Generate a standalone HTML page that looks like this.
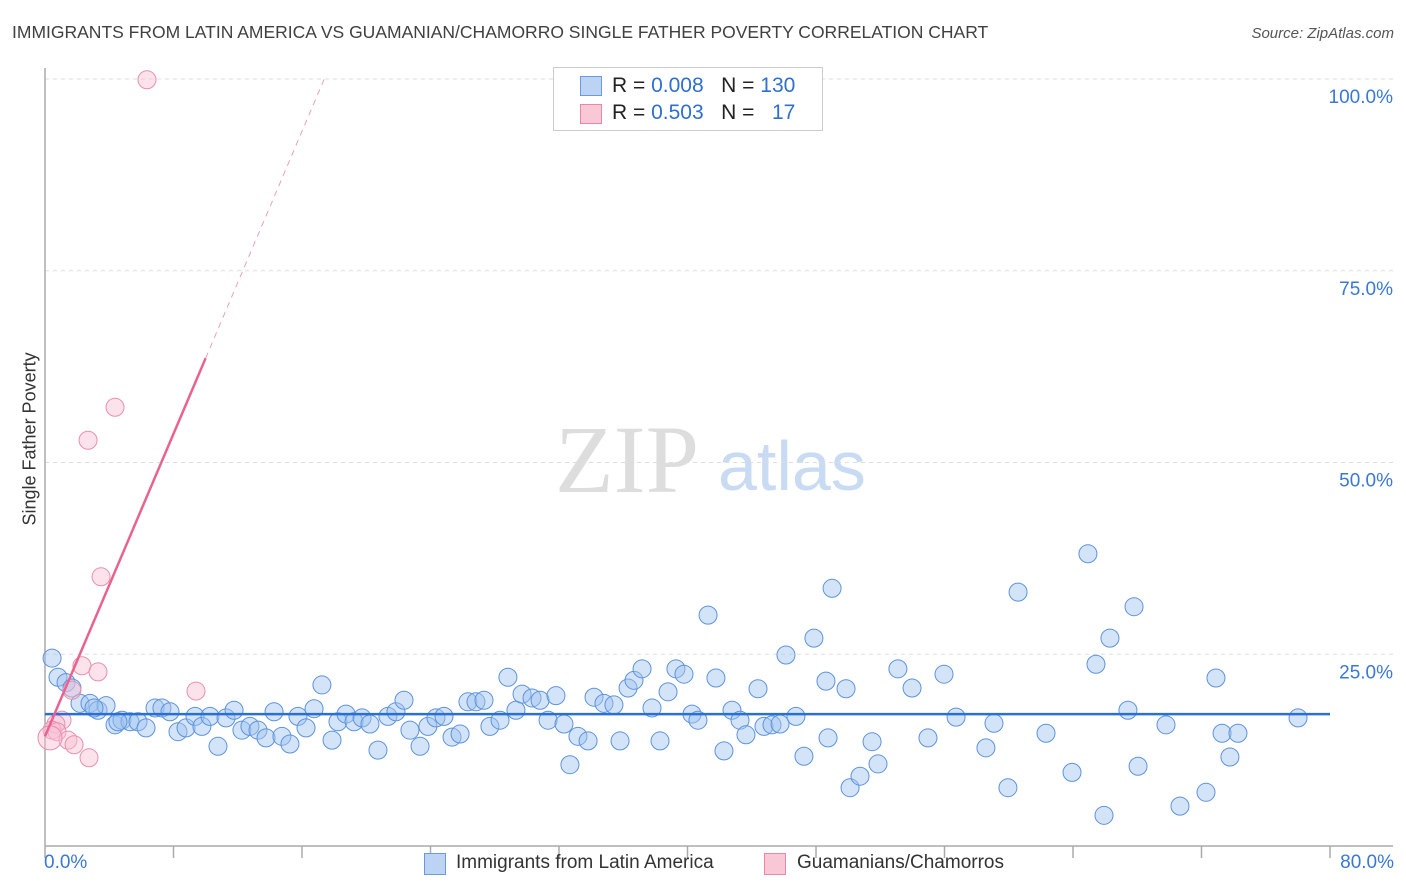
<!DOCTYPE html>
<html><head><meta charset="utf-8"><style>
body{margin:0;width:1406px;height:892px;background:#fff;font-family:"Liberation Sans",sans-serif;overflow:hidden;position:relative}
.t{position:absolute;white-space:nowrap}
</style></head><body>
<div class="t" style="left:12px;top:22px;font-size:17.5px;color:#404040">IMMIGRANTS FROM LATIN AMERICA VS GUAMANIAN/CHAMORRO SINGLE FATHER POVERTY CORRELATION CHART</div>
<div class="t" style="right:12px;top:25px;font-size:15px;color:#555;font-style:italic">Source: ZipAtlas.com</div>
<div class="t" style="left:-40px;top:445px;font-size:18px;color:#333;transform:rotate(-90deg);width:140px;text-align:center">Single Father Poverty</div>
<svg id="chart" width="1406" height="892" style="position:absolute;left:0;top:0">
<text x="555" y="492" font-family="Liberation Serif,serif" font-size="96" fill="#ddd">ZIP</text>
<text x="718" y="490" font-family="Liberation Sans,sans-serif" font-size="70" fill="#c9daf3">atlas</text>
<g id="grid"></g><g id="marks"></g>
</svg>
<div style="position:absolute;left:553px;top:67px;width:268px;height:62px;border:1px solid #ccc;background:#fff;font-size:21px;color:#222">
<div style="position:absolute;left:26px;top:8px;width:20px;height:18px;background:#bcd3f3;border:1px solid #6a9be0"></div>
<div class="t" style="left:58px;top:6px">R = <span style="color:#2f6fd0">0.008</span>&nbsp;&nbsp;&nbsp;N = <span style="color:#2f6fd0">130</span></div>
<div style="position:absolute;left:26px;top:36px;width:20px;height:18px;background:#f8c8d6;border:1px solid #e88aa5"></div>
<div class="t" style="left:58px;top:33px">R = <span style="color:#2f6fd0">0.503</span>&nbsp;&nbsp;&nbsp;N = &nbsp;&nbsp;<span style="color:#2f6fd0">17</span></div>
</div>
<div class="t" style="left:44px;top:852px;font-size:19px;color:#3a78d6">0.0%</div>
<div class="t" style="right:12px;top:852px;font-size:19px;color:#3a78d6">80.0%</div>
<div style="position:absolute;left:424px;top:853px;width:20px;height:20px;background:#bcd3f3;border:1px solid #6a9be0"></div>
<div class="t" style="left:456px;top:852px;font-size:19px;color:#333">Immigrants from Latin America</div>
<div style="position:absolute;left:764px;top:853px;width:20px;height:20px;background:#f8c8d6;border:1px solid #e88aa5"></div>
<div class="t" style="left:797px;top:852px;font-size:19px;color:#333">Guamanians/Chamorros</div>
<script>
const blueX=[0.44,0.81,1.31,1.68,2.18,2.80,3.30,3.80,4.36,4.79,5.29,5.79,6.29,6.85,7.28,7.78,8.28,8.78,9.34,9.77,10.27,10.77,11.27,11.77,12.26,12.76,13.26,13.76,14.26,14.75,15.25,15.75,16.25,16.75,17.24,17.87,18.24,18.74,19.24,19.74,20.23,20.73,21.35,21.85,22.35,22.72,23.35,23.84,24.34,24.84,25.34,25.84,26.33,26.83,27.33,27.70,28.33,28.82,29.32,29.70,30.32,30.82,31.32,31.81,32.31,32.68,33.18,33.81,34.18,34.80,35.42,35.80,36.30,36.67,37.17,37.79,38.29,38.79,39.28,39.78,40.28,40.65,41.28,41.77,42.27,42.77,43.27,43.64,44.39,44.76,45.26,45.76,46.13,46.75,47.25,47.87,48.62,48.75,49.00,49.87,50.12,50.74,51.49,51.86,53.10,53.98,54.97,55.97,56.72,58.58,59.08,59.95,60.58,62.32,63.94,64.93,65.43,65.93,66.30,67.42,67.80,68.05,69.79,70.66,72.28,72.90,73.28,73.77,74.27,78.01,3.05,4.54];
const blueY=[24.5,22.0,21.3,20.6,18.6,18.6,17.7,18.3,15.8,16.4,16.2,16.2,15.4,18.0,18.0,17.5,14.9,15.4,16.9,15.6,16.9,13.0,16.7,17.7,15.1,15.6,15.1,14.1,17.5,14.3,13.3,16.9,15.4,17.9,21.0,13.8,16.2,17.2,16.2,16.7,15.9,12.5,16.9,17.5,19.0,15.1,13.0,15.6,16.7,16.9,14.2,14.6,18.8,18.8,19.0,15.6,16.4,22.0,17.7,19.8,19.3,19.0,16.4,19.6,15.9,10.6,14.3,13.7,19.4,18.6,18.4,13.7,20.6,21.6,23.1,18.0,13.7,20.1,23.1,22.4,17.2,16.4,30.1,21.9,12.4,17.7,16.4,14.5,20.5,15.6,15.8,15.9,24.9,16.9,11.7,27.1,21.5,14.1,33.6,20.5,7.6,9.1,13.6,10.7,23.1,20.6,14.1,22.4,16.8,12.8,16.0,7.6,33.1,14.7,9.6,38.1,23.7,4.0,27.1,17.7,31.2,10.4,15.8,5.2,7.0,21.9,14.7,11.6,14.7,16.7,18.0,16.2];
const pinkX=[6.35,4.36,2.68,3.49,2.30,3.30,9.40,1.68,1.06,0.68,0.44,0.75,1.43,1.81,2.74,0.31];
const pinkY=[99.9,57.2,52.9,35.1,23.5,22.7,20.2,20.3,16.4,15.9,15.1,14.9,13.8,13.2,11.5,14.1];
const blueTrend=[17.2,0];   // intercept, slope
const pinkTrend=[14.3,4.93];
const yTicks=[25,50,75,100];
const yTickLabels=["25.0%","50.0%","75.0%","100.0%"];
const xTickCount=10;
const X0=45,X1=1330,Y0=846,Y1=79;
const sx=v=>X0+(X1-X0)*v/80;
const sy=v=>Y0-(Y0-Y1)*v/100;
const NS="http://www.w3.org/2000/svg";
function mk(t,a,p){const e=document.createElementNS(NS,t);for(const k in a)e.setAttribute(k,a[k]);p.appendChild(e);return e;}
const grid=document.getElementById('grid'),marks=document.getElementById('marks');
yTicks.forEach((v,i)=>{
  const g=mk('line',{x1:X0,x2:1393,y1:sy(v),y2:sy(v),stroke:'#ddd','stroke-dasharray':'4,4'},grid);
  
  
  const t=mk('text',{x:1393,y:sy(v)+24,'text-anchor':'end','font-size':19,fill:'#3a78d6','font-family':'Liberation Sans,sans-serif'},grid);
  t.textContent=yTickLabels[i];
  
  
});
const ax=mk('line',{x1:X0,x2:X0,y1:68,y2:Y0,stroke:'#aaa','stroke-width':1.5},grid);


const bx=mk('line',{x1:X0,x2:1393,y1:Y0,y2:Y0,stroke:'#aaa','stroke-width':1.5},grid);


for(let i=0;i<=xTickCount;i++){
  const v=80*i/xTickCount;
  const tk=mk('line',{x1:sx(v),x2:sx(v),y1:Y0,y2:Y0+12,stroke:'#aaa','stroke-width':1.5},grid);
  
  
}
blueX.forEach((x,i)=>{
  const c=mk('circle',{cx:sx(x),cy:sy(blueY[i]),r:9,fill:'rgba(160,195,240,0.45)',stroke:'#5d93dd','stroke-width':1},marks);
  
  
});
pinkX.forEach((x,i)=>{
  const c=mk('circle',{cx:sx(x),cy:sy(pinkY[i]),r:(i==15?12:9),fill:'rgba(248,190,210,0.45)',stroke:'#ea8fab','stroke-width':1},marks);
  
  
});
const bl=mk('line',{x1:sx(0),x2:sx(80),y1:sy(blueTrend[0]),y2:sy(blueTrend[0]+80*blueTrend[1]),stroke:'#2a6fd6','stroke-width':2.5},marks);


const pEnd=(100-pinkTrend[0])/pinkTrend[1];
const pl=mk('line',{x1:sx(0),x2:sx(10),y1:sy(pinkTrend[0]),y2:sy(pinkTrend[0]+10*pinkTrend[1]),stroke:'#e8638e','stroke-width':2.5},marks);


const pd=mk('line',{x1:sx(10),x2:sx(pEnd),y1:sy(pinkTrend[0]+10*pinkTrend[1]),y2:sy(100),stroke:'#e8a0b8','stroke-width':1,'stroke-dasharray':'6,5'},marks);


</script>
</body></html>
